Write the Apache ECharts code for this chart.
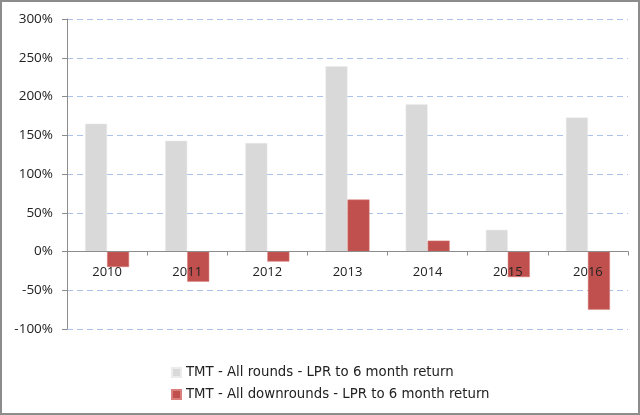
<!DOCTYPE html>
<html>
<head>
<meta charset="utf-8">
<script src="https://cdn.jsdelivr.net/npm/echarts@6/dist/echarts.min.js"></script>
<style>
  html, body { margin: 0; padding: 0; background: #fff; }
  #chart { width: 640px; height: 415px; box-sizing: border-box; border: 2px solid #8c8c8c; }
</style>
</head>
<body>
<div id="chart"></div>
<script>
// data (percent)
var years = ['2010', '2011', '2012', '2013', '2014', '2015', '2016'];
var allRounds = [165, 143, 140, 239, 190, 28, 173];
var downRounds = [-20, -39, -13, 67, 14, -33, -75];
var seriesNames = [
    'TMT - All rounds - LPR to 6 month return',
    'TMT - All downrounds - LPR to 6 month return'
];

var myChart = echarts.init(document.getElementById('chart'));

var option = {
    animation: false,
    textStyle: { fontFamily: 'Open Sans' },
    grid: { left: 65, right: 10, top: 17, bottom: 84 },
    legend: {
        orient: 'vertical',
        left: 169,
        top: 364,
        padding: 0,
        itemWidth: 9,
        itemHeight: 9,
        itemGap: 9,
        icon: 'rect',
        textStyle: { fontSize: 13.3, color: '#222', fontFamily: 'DejaVu Sans' },
        data: seriesNames
    },
    xAxis: {
        type: 'category',
        data: years,
        position: 'bottom',
        offset: -77.5,
        z: 5,
        axisLine: { onZero: false, lineStyle: { color: '#8c8c8c' } },
        axisTick: { show: true, length: 4, lineStyle: { color: '#8c8c8c' } },
        axisLabel: { fontSize: 13, color: '#222', margin: 14 }
    },
    yAxis: {
        type: 'value',
        min: -100,
        max: 300,
        interval: 50,
        axisLine: { show: true, lineStyle: { color: '#8c8c8c' } },
        axisTick: { show: true, length: 5, lineStyle: { color: '#8c8c8c' } },
        axisLabel: { fontSize: 13.5, color: '#222', margin: 14, formatter: '{value}%' },
        splitLine: { lineStyle: { color: '#adc2e8', type: [6, 4], width: 1 } }
    },
    series: [
        {
            name: seriesNames[0],
            type: 'bar',
            data: allRounds,
            barWidth: 22,
            barGap: '0%',
            itemStyle: { color: '#d9d9d9', borderColor: '#ececec', borderWidth: 0.5 }
        },
        {
            name: seriesNames[1],
            type: 'bar',
            data: downRounds,
            barWidth: 22,
            barGap: '0%',
            itemStyle: { color: '#c0504d', borderColor: '#d9807d', borderWidth: 0.5 }
        }
    ]
};

myChart.setOption(option);

window.addEventListener('resize', function () {
    myChart.resize();
});
</script>
</body>
</html>
